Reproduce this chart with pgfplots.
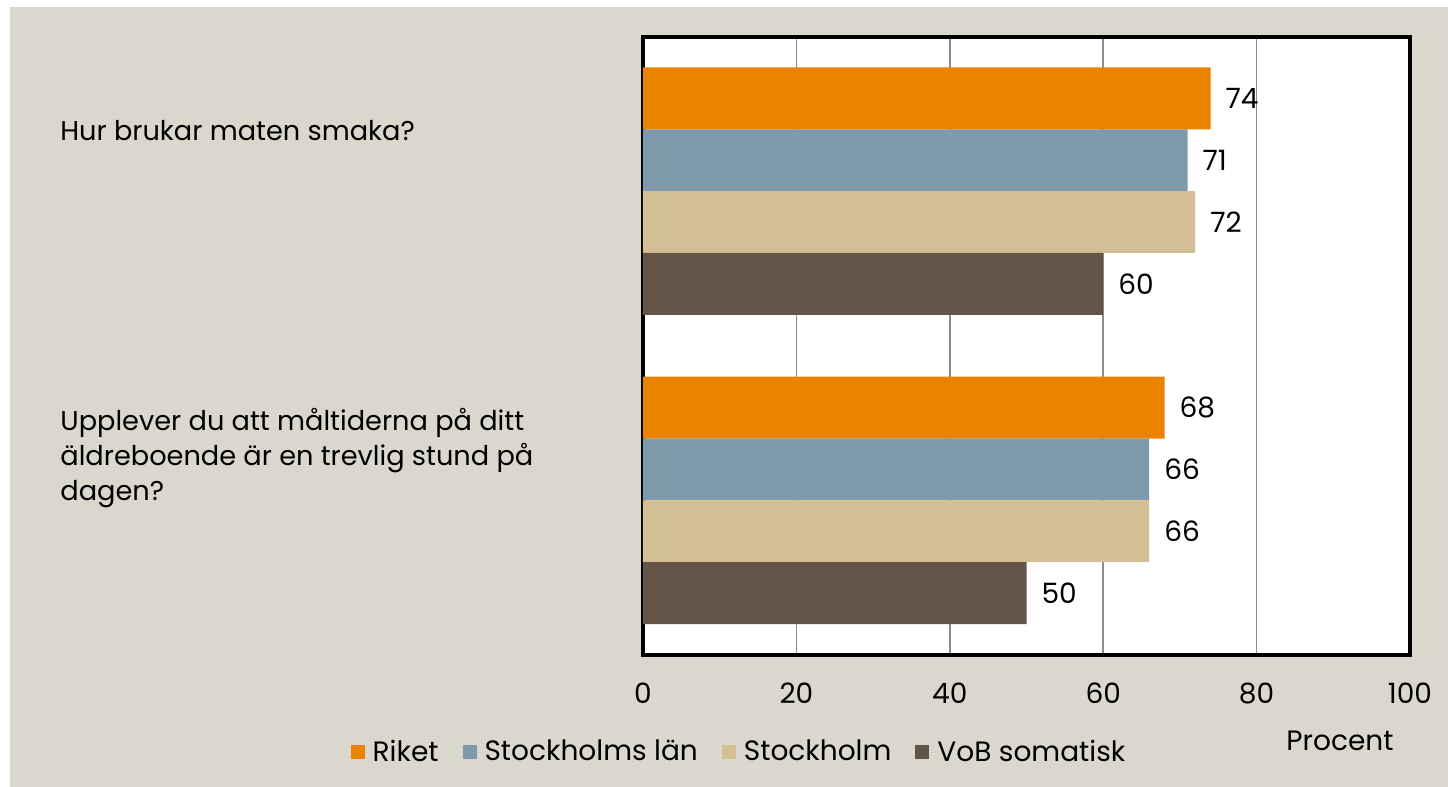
\documentclass[border=0pt]{standalone}
\usepackage{fontspec}
\setmainfont{Poppins}
\usepackage{pgfplots}
\pgfplotsset{compat=1.18}
\definecolor{bg}{RGB}{218,216,204}
\definecolor{riket}{RGB}{233,131,0}
\definecolor{sthlan}{RGB}{126,154,171}
\definecolor{sthlm}{RGB}{212,190,149}
\definecolor{vob}{RGB}{99,85,74}
\newcommand{\tf}{\fontsize{14}{17}\selectfont}
\newcommand{\cf}{\fontsize{13.6}{17}\selectfont}
\begin{document}
\begin{tikzpicture}[x=0.5pt,y=-0.5pt]
\fill[white] (0,0) rectangle (1448,787);
\fill[bg] (10,7) rectangle (1448,787);
\begin{axis}[
  at={(321.5pt,-327.5pt)}, anchor=south west,
  scale only axis, width=383.5pt, height=309.25pt,
  xmin=0, xmax=100, ymin=0, ymax=10, y dir=reverse,
  xbar, bar width=1,
  axis background/.style={fill=white},
  axis line style={line width=2pt, black},
  xtick={0,20,40,60,80,100}, ytick=\empty,
  major tick length=0pt,
  xmajorgrids, major grid style={black!45, line width=0.8pt},
  tick label style={font=\tf},
  xticklabel style={yshift=-10.5pt},
  /pgf/number format/assume math mode=true,
  nodes near coords, point meta=x,
  every node near coord/.append style={font=\tf, anchor=west, xshift=4pt},
  legend style={at={(0.1265,-0.157)}, anchor=center, legend columns=4,
    draw=none, fill=none, font=\tf,
    /tikz/every even column/.append style={column sep=10pt}},
  legend image code/.code={\fill[#1,draw=none] (0pt,-3.6pt) rectangle (7pt,3.6pt);
    \path (0pt,0pt) -- (9pt,0pt);},
  clip=false,
]
\addplot[fill=riket, draw=none, bar shift=0pt] coordinates {(74,1) (68,6)};
\addplot[fill=sthlan, draw=none, bar shift=0pt] coordinates {(71,2) (66,7)};
\addplot[fill=sthlm, draw=none, bar shift=0pt] coordinates {(72,3) (66,8)};
\addplot[fill=vob, draw=none, bar shift=0pt] coordinates {(60,4) (50,9)};
\legend{Riket, Stockholms län, Stockholm, VoB somatisk}
\end{axis}
\node[font=\cf, anchor=base west, inner sep=0pt] at (60,140) {Hur brukar maten smaka?};
\node[font=\cf, anchor=base west, inner sep=0pt] at (60,430) {Upplever du att måltiderna på ditt};
\node[font=\cf, anchor=base west, inner sep=0pt] at (60,465) {äldreboende är en trevlig stund på};
\node[font=\cf, anchor=base west, inner sep=0pt] at (60,500) {dagen?};
\node[font=\tf] at (1340,741) {Procent};
\end{tikzpicture}
\end{document}
